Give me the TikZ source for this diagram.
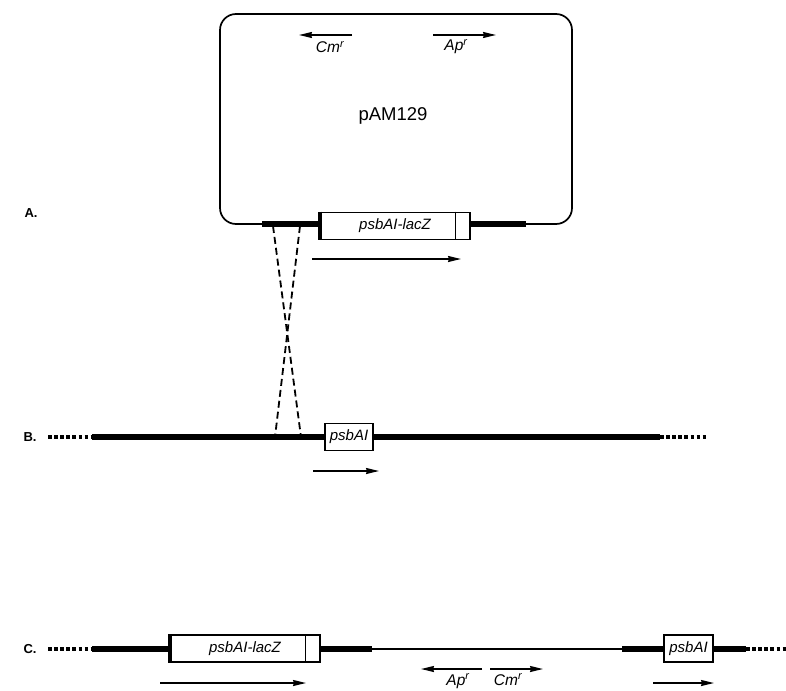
\documentclass[tikz,border=0pt]{standalone}
\usepackage{fontspec}
\setmainfont{Liberation Sans}
\usetikzlibrary{arrows.meta}
\begin{document}
\begin{tikzpicture}[x=1pt,y=-1pt,
  thinline/.style={line width=1.7pt},
  thickline/.style={line width=5.2pt},
  dotline/.style={line width=4.5pt,dash pattern=on 3.5pt off 2.6pt},
  genebox/.style={draw,line width=1.7pt,fill=white,inner sep=0pt,minimum height=27pt,font=\fontsize{15}{15}\selectfont\itshape},
  dir/.style={line width=1.6pt,-{Stealth[length=13pt,width=6pt,inset=1pt]}},
  marker/.style={font=\fontsize{15.5}{15.5}\selectfont\itshape,inner sep=1pt},
  rowlabel/.style={font=\fontsize{13}{13}\selectfont\bfseries},
  cross/.style={line width=1.8pt,dash pattern=on 7pt off 4pt}
]
\useasboundingbox (0,0) rectangle (786,690);

% ---------- A: plasmid ----------
\draw[thinline,rounded corners=16pt] (220,224) -- (220,14) -- (572,14) -- (572,224) -- cycle;
\coordinate (a1) at (262,224);
\coordinate (a2) at (320,224);
\coordinate (a3) at (470,224);
\coordinate (a4) at (526,224);
\draw[thickline] (a1) -- (a2);
\draw[thickline] (a3) -- (a4);
\node[genebox,minimum width=150pt] (lacA) at (395,226) {psbAI-lacZ};
\draw[line width=1.2pt] ([xshift=-15pt]lacA.north east) -- ([xshift=-15pt]lacA.south east);
\draw[line width=4pt] ([xshift=1.2pt]lacA.north west) -- ([xshift=1.2pt]lacA.south west);
\coordinate (arA1) at (312,259);
\coordinate (arA2) at (461,259);
\draw[dir] (arA1) -- (arA2);

\node[font=\fontsize{18.5}{18.5}\selectfont] (pam) at (393,116) {pAM129};
\coordinate (cm1) at (352,35);
\coordinate (cm2) at (299,35);
\draw[dir] (cm1) -- (cm2);
\node[marker] (cmlab) at (330,47) {Cm\textsuperscript{r}};
\coordinate (ap1) at (433,35);
\coordinate (ap2) at (496,35);
\draw[dir] (ap1) -- (ap2);
\node[marker] (aplab) at (456,47) {Ap\textsuperscript{r}};

\node[rowlabel] (labA) at (31,213) {A.};

% ---------- B: chromosome ----------
\coordinate (b0) at (48,437);
\coordinate (b1) at (92,437);
\coordinate (b2) at (660,437);
\coordinate (b3) at (708,437);
\draw[dotline] (b0) -- (b1);
\draw[thickline] (b1) -- (b2);
\draw[dotline] (b2) -- (b3);
\node[genebox,minimum width=48pt] (psbB) at (349,437) {psbAI};
\coordinate (arB1) at (313,471);
\coordinate (arB2) at (379,471);
\draw[dir] (arB1) -- (arB2);
\node[rowlabel] (labB) at (30,437) {B.};

% ---------- crossover ----------
\coordinate (x1) at (273,226);
\coordinate (x2) at (300,226);
\coordinate (y1) at (301,437);
\coordinate (y2) at (275,437);
\draw[cross] (x1) -- (y1);
\draw[cross] (x2) -- (y2);

% ---------- C: integrated ----------
\coordinate (c0) at (48,649);
\coordinate (c1) at (92,649);
\coordinate (c2) at (172,649);
\coordinate (c3) at (320,649);
\coordinate (c4) at (372,649);
\coordinate (c5) at (622,649);
\coordinate (c6) at (664,649);
\coordinate (c7) at (713,649);
\coordinate (c8) at (746,649);
\coordinate (c9) at (790,649);
\draw[dotline] (c0) -- (c1);
\draw[thickline] (c1) -- (c2);
\draw[thickline] (c3) -- (c4);
\draw[thinline] (c4) -- (c5);
\draw[thickline] (c5) -- (c6);
\draw[thickline] (c7) -- (c8);
\draw[dotline] (c8) -- (c9);
\node[genebox,minimum width=150pt] (lacC) at (245,648.5) {psbAI-lacZ};
\draw[line width=1.2pt] ([xshift=-15pt]lacC.north east) -- ([xshift=-15pt]lacC.south east);
\draw[line width=4pt] ([xshift=1.2pt]lacC.north west) -- ([xshift=1.2pt]lacC.south west);
\node[genebox,minimum width=49pt] (psbC) at (688.5,648.5) {psbAI};
\coordinate (arC1) at (160,683);
\coordinate (arC2) at (306,683);
\draw[dir] (arC1) -- (arC2);
\coordinate (arC3) at (653,683);
\coordinate (arC4) at (714,683);
\draw[dir] (arC3) -- (arC4);
\coordinate (apC1) at (482,669);
\coordinate (apC2) at (421,669);
\draw[dir] (apC1) -- (apC2);
\coordinate (cmC1) at (490,669);
\coordinate (cmC2) at (543,669);
\draw[dir] (cmC1) -- (cmC2);
\node[marker,anchor=base] (apClab) at (458,685) {Ap\textsuperscript{r}};
\node[marker,anchor=base] (cmClab) at (508,685) {Cm\textsuperscript{r}};
\node[rowlabel] (labC) at (30,649) {C.};
\end{tikzpicture}
\end{document}
